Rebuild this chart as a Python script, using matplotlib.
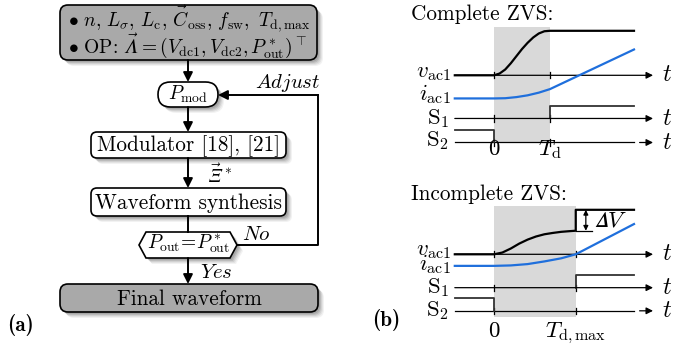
import matplotlib
matplotlib.use("Agg")
from matplotlib import pyplot as plt
from matplotlib.patches import FancyBboxPatch, Polygon
import numpy as np

plt.rcParams['mathtext.fontset'] = 'cm'
plt.rcParams['font.family'] = 'cmr10'
plt.rcParams['axes.formatter.use_mathtext'] = True

# ---- flowchart text ----
top_line1 = r'$\bullet\ n,\, L_\sigma,\, L_\mathrm{c},\, \vec{C}_\mathrm{oss},\, f_\mathrm{sw},\ T_\mathrm{d,max}$'
top_line2 = '$\\bullet\\ \\mathrm{OP}\\!:\\, \\vec{\U0001D6EC} = (V_\\mathrm{dc1}, V_\\mathrm{dc2}, P^*_\\mathrm{out})^\\top$'
pmod_label = r'$P_\mathrm{mod}$'
modulator_label = 'Modulator [18], [21]'
xi_label = '$\\vec{\U0001D6EF}^*$'
synth_label = 'Waveform synthesis'
check_label = r'$P_\mathrm{out}\!=\!P^*_\mathrm{out}$'
final_label = 'Final waveform'

# ---- waveform data (time in units of T_d, amplitude normalised) ----
T_d = 1.0
T_dmax = 1.46
t_start, t_end = -0.7, 2.5

# complete ZVS
v_full_t = [0, 0.1, 0.2, 0.3, 0.4, 0.5, 0.6, 0.7, 0.8, 0.9, 1.0]
v_full = [0, 0.04, 0.13, 0.27, 0.43, 0.59, 0.73, 0.85, 0.94, 0.99, 1.0]
i_full_t = [-0.7, 0, 0.2, 0.4, 0.6, 0.8, 1.0, 2.5]
i_full = [-0.52, -0.52, -0.515, -0.49, -0.45, -0.39, -0.31, 0.58]

# incomplete ZVS
v_part_t = [0, 0.15, 0.3, 0.45, 0.6, 0.75, 0.9, 1.05, 1.2, 1.35, 1.46]
v_part = [0, 0.04, 0.13, 0.24, 0.33, 0.40, 0.45, 0.48, 0.505, 0.52, 0.53]
i_part_t = [-0.7, 0, 0.3, 0.6, 0.9, 1.2, 1.46, 2.5]
i_part = [-0.26, -0.26, -0.25, -0.22, -0.16, -0.09, 0.0, 0.68]

BLUE = '#1f6fdc'
GRAY = '#a9a9a9'
FS = 15.3      # plain text
FM = 14.0      # math in flowchart
FR = 16.5      # math in waveform panels

fig = plt.figure(figsize=(6.89, 3.45), dpi=100)
ax = fig.add_axes([0, 0, 1, 1])
ax.set_xlim(0, 689)
ax.set_ylim(345, 0)
ax.axis('off')


def shadow_box(x, y, w, h, r, fc):
    for k, a in [(6, 0.05), (5, 0.06), (4, 0.08), (3, 0.1), (2, 0.1)]:
        ax.add_patch(FancyBboxPatch((x + k, y + k), w, h,
                                    boxstyle='round,pad=0,rounding_size=%g' % r,
                                    fc='k', ec='none', alpha=a, zorder=1))
    ax.add_patch(FancyBboxPatch((x, y), w, h,
                                boxstyle='round,pad=0,rounding_size=%g' % r,
                                fc=fc, ec='k', lw=1.2, zorder=2))


def arrow(x0, y0, x1, y1, ms=14, lw=1.4):
    ax.annotate('', xy=(x1, y1), xytext=(x0, y0),
                arrowprops=dict(arrowstyle='-|>', color='k', lw=lw,
                                mutation_scale=ms, shrinkA=0, shrinkB=0),
                zorder=3)


# boxes
shadow_box(60, 5, 257, 55, 8, GRAY)
ax.text(68, 27, top_line1, fontsize=FM, zorder=4)
ax.text(68, 53, top_line2, fontsize=FM, zorder=4)

shadow_box(158, 82, 60, 25, 12.5, 'white')
ax.text(188, 100, pmod_label, fontsize=FM, ha='center', zorder=4)

shadow_box(91, 132, 195, 26, 6, 'white')
ax.text(188.5, 151.5, modulator_label, fontsize=FS, ha='center', zorder=4)

shadow_box(91, 188, 195, 28, 6, 'white')
ax.text(188.5, 209, synth_label, fontsize=FS, ha='center', zorder=4)

hexpts = [(139, 245), (146, 232), (230, 232), (237, 245), (230, 258), (146, 258)]
for k, a in [(6, 0.05), (5, 0.06), (4, 0.08), (3, 0.1), (2, 0.1)]:
    ax.add_patch(Polygon([(px + k, py + k) for px, py in hexpts],
                         fc='k', ec='none', alpha=a, zorder=1))
ax.add_patch(Polygon(hexpts, fc='white', ec='k', lw=1.2, zorder=2))
ax.text(188, 248.5, check_label, fontsize=FM, ha='center', zorder=4)

shadow_box(60, 284, 258, 28, 8, GRAY)
ax.text(189, 305, final_label, fontsize=FS, ha='center', zorder=4)

# connectors
arrow(188, 60, 188, 82)
arrow(188, 107, 188, 132)
arrow(188, 158, 188, 188)
ax.plot([188, 188], [216, 232], color='k', lw=1.4, zorder=3)
arrow(188, 258, 188, 284)
ax.plot([237, 318, 318], [244.5, 244.5, 95], color='k', lw=1.4, zorder=3)
arrow(318, 95, 218, 95)

ax.text(207, 183, xi_label, fontsize=FM)
ax.text(255, 88, r'$\mathit{Adjust}$', fontsize=FM + 1)
ax.text(242, 240, r'$\mathit{No}$', fontsize=FM + 1)
ax.text(200, 278.5, r'$\mathit{Yes}$', fontsize=FM + 1)
ax.text(7, 331, '(a)', fontsize=FS, family='cmb10')
ax.text(372, 326, '(b)', fontsize=FS, family='cmb10')

ax.text(411, 19.5, 'Complete ZVS:', fontsize=FS)
ax.text(411, 200, 'Incomplete ZVS:', fontsize=FS)

# ---- waveform panels ----
PX_T = 56.0     # pixels per time unit
PX_V = 44.5     # pixels per amplitude unit
xlim = (-1.2, 3.2)
ylim = (-1.9, 1.15)


def panel(v_base_px):
    left = 494 + PX_T * xlim[0]
    top = v_base_px - PX_V * ylim[1]
    w = PX_T * (xlim[1] - xlim[0])
    h = PX_V * (ylim[1] - ylim[0])
    a = fig.add_axes([left / 689, 1 - (top + h) / 345, w / 689, h / 345])
    a.set_xlim(*xlim)
    a.set_ylim(*ylim)
    a.axis('off')
    a.patch.set_alpha(0)
    return a


def t_axis(a, y0, t_ticks, arrow_gap=False):
    if arrow_gap:
        a.plot([t_start, t_end], [y0, y0], color='k', lw=0.9)
        a.annotate('', xy=(2.84, y0), xytext=(2.6, y0),
                   arrowprops=dict(arrowstyle='-|>', color='k', lw=0.9,
                                   mutation_scale=10, shrinkA=0, shrinkB=0))
    else:
        a.annotate('', xy=(2.84, y0), xytext=(t_start, y0),
                   arrowprops=dict(arrowstyle='-|>', color='k', lw=0.9,
                                   mutation_scale=10, shrinkA=0, shrinkB=0))
    for tt in t_ticks:
        a.plot([tt, tt], [y0 - 0.07, y0 + 0.07], color='k', lw=0.9)
    a.text(3.0, y0, r'$t$', fontsize=FR + 1, va='center')


def waveforms(a, t_sw, v_t, v, i_t, i, s1_y, s2_y, hi, shade_y):
    a.fill_between([0, t_sw], shade_y[0], shade_y[1], color='#d9d9d9', lw=0, zorder=0)
    t_axis(a, 0, [0, t_sw])
    t_axis(a, s1_y, [0, t_sw])
    t_axis(a, s2_y, [0, t_sw], arrow_gap=True)
    a.plot([t_start] + v_t + [t_sw, t_end],
           [0] + v + [1.0, 1.0], color='k', lw=1.6, zorder=3)
    a.plot(i_t, i, color=BLUE, lw=1.6, zorder=3)
    a.plot([t_sw, t_sw, t_end], [s1_y, s1_y + hi, s1_y + hi], color='#333333', lw=1.3)
    a.plot([t_start, 0, 0], [s2_y + hi, s2_y + hi, s2_y], color='#333333', lw=1.3)


top = panel(75.3)
waveforms(top, T_d, v_full_t, v_full, i_full_t, i_full, -0.97, -1.51, 0.29, (-1.52, 1.085))
top.text(0, -1.79, r'$0$', fontsize=FR, ha='center', va='baseline')
top.text(T_d, -1.79, r'$T_\mathrm{d}$', fontsize=FR, ha='center', va='baseline')

bot = panel(254.3)
waveforms(bot, T_dmax, v_part_t, v_part, i_part_t, i_part, -0.75, -1.27, 0.29, (-1.42, 1.09))
bot.text(0, -1.85, r'$0$', fontsize=FR, ha='center', va='baseline')
bot.text(T_dmax, -1.85, r'$T_\mathrm{d,max}$', fontsize=FR, ha='center', va='baseline')
# delta V marker
bot.plot([T_dmax, 1.75], [v_part[-1], v_part[-1]], color='k', lw=0.9)
bot.annotate('', xy=(1.64, 1.0), xytext=(1.64, v_part[-1]),
             arrowprops=dict(arrowstyle='<|-|>', color='k', lw=0.9,
                             mutation_scale=7, shrinkA=0, shrinkB=0))
bot.text(1.78, 0.76, '$\U0001D6E5 V$', fontsize=FR, va='center')

# signal labels
ax.text(451, 77.5, r'$v_\mathrm{ac1}$', fontsize=FR, ha='right')
ax.text(451, 100.5, r'$i_\mathrm{ac1}$', fontsize=FR, ha='right')
ax.text(449, 124, r'$\mathrm{S}_1$', fontsize=FR, ha='right')
ax.text(449, 146.5, r'$\mathrm{S}_2$', fontsize=FR, ha='right')
ax.text(451, 255.5, r'$v_\mathrm{ac1}$', fontsize=FR, ha='right')
ax.text(451, 270, r'$i_\mathrm{ac1}$', fontsize=FR, ha='right')
ax.text(449, 293, r'$\mathrm{S}_1$', fontsize=FR, ha='right')
ax.text(449, 316.5, r'$\mathrm{S}_2$', fontsize=FR, ha='right')

fig.savefig('out.png', dpi=100)
